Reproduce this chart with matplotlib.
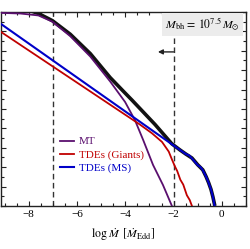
import matplotlib
matplotlib.use("Agg")
import matplotlib.pyplot as plt
import numpy as np

plt.rcParams['font.family'] = ['Liberation Serif', 'DejaVu Serif']
plt.rcParams['mathtext.fontset'] = 'stix'

# data (log Mdot, arbitrary log-count units)
x_tot = [-9.15, -8.3, -7.6, -7.02, -6.28, -5.45, -4.63, -4.01, -3.72, -2.77, -2.07, -1.74, -1.5, -1.24, -1.0, -0.79, -0.65, -0.55, -0.45, -0.37, -0.29]
y_tot = [10.6, 10.22, 9.92, 9.55, 8.85, 7.85, 6.62, 5.82, 5.45, 4.2, 3.2, 2.89, 2.68, 2.47, 2.12, 1.86, 1.5, 1.2, 0.85, 0.46, 0.0]

x_mt = [-9.13, -8.35, -7.6, -7.02, -6.28, -5.45, -4.63, -4.01, -3.6, -3.26, -2.85, -2.44, -2.07]
y_mt = [9.95, 9.92, 9.82, 9.5, 8.75, 7.7, 6.42, 5.36, 4.42, 3.40, 2.11, 1.08, 0.0]

x_gi = [-9.15, -3.4, -2.9, -2.48, -2.2, -2.07, -1.95, -1.85, -1.72, -1.6, -1.45, -1.33, -1.24]
y_gi = [8.97, 4.2, 3.75, 3.3, 2.8, 2.4, 2.05, 1.8, 1.35, 1.1, 0.55, 0.3, 0.0]

x_ms = [-9.15, -1.74, -1.5, -1.35, -1.24, -1.0, -0.88, -0.79, -0.65, -0.55, -0.45, -0.37, -0.3]
y_ms = [9.38, 2.89, 2.68, 2.6, 2.45, 2.1, 2.0, 1.84, 1.5, 1.2, 0.85, 0.46, 0.0]

vlines = [-7, -2]
xticks = [-8, -6, -4, -2, 0]

c_mt = '#5a0f6e'
c_gi = '#c00000'
c_ms = '#0000c8'

fig = plt.figure(figsize=(2.5, 2.49), dpi=100)
ax = fig.add_axes([0.004, 0.173, 0.98, 0.779])

ax.plot(x_tot, y_tot, color='#111111', lw=2.6, solid_capstyle='butt', zorder=2)
ax.plot(x_mt, y_mt, color=c_mt, lw=1.3, label='MT', zorder=3)
ax.plot(x_gi, y_gi, color=c_gi, lw=1.3, label='TDEs (Giants)', zorder=3)
ax.plot(x_ms, y_ms, color=c_ms, lw=1.5, label='TDEs (MS)', zorder=3)

for v in vlines:
    ax.axvline(v, color='#333333', lw=1.0, ls=(0, (4, 2.5)), zorder=1)

ax.annotate('', xy=(-2.65, 7.94), xytext=(-2.0, 7.94),
            arrowprops=dict(arrowstyle='-|>', color='#222222', lw=1.0,
                            mutation_scale=7, shrinkA=0, shrinkB=0))

ax.text(0.822, 0.935, r'$M_{\rm bh}\,=\,10^{7.5}\,M_{\odot}$', transform=ax.transAxes,
        ha='center', va='center', fontsize=8.5,
        bbox=dict(facecolor='#ececec', edgecolor='none', pad=2.0), zorder=4)

leg = ax.legend(loc='center left', bbox_to_anchor=(0.24, 0.263), frameon=False,
                fontsize=8, handlelength=1.3, handletextpad=0.4, labelspacing=0.3,
                borderaxespad=0, borderpad=0, labelcolor='linecolor')

ax.set_xlim(-9.15, 1.0)
ax.set_ylim(0, 10)
ax.set_xticks(xticks)
ax.set_xticks(np.arange(-9, 1.01, 0.5), minor=True)
ax.set_yticks(np.arange(0, 10.01, 1))
ax.set_yticks(np.arange(0, 10.01, 0.5), minor=True)
ax.set_yticklabels([])
ax.tick_params(which='both', direction='in', top=True, right=True, width=0.8, color='#222222')
ax.tick_params(which='major', length=3.5, labelsize=8, pad=3)
ax.tick_params(which='minor', length=2)
for s in ax.spines.values():
    s.set_linewidth(1.0)
    s.set_color('#222222')

ax.set_xlabel(r'$\log\,\dot{M}\ \,[\dot{M}_{\rm Edd}]$', fontsize=8.5, labelpad=5)

fig.savefig('out.png', dpi=100)
